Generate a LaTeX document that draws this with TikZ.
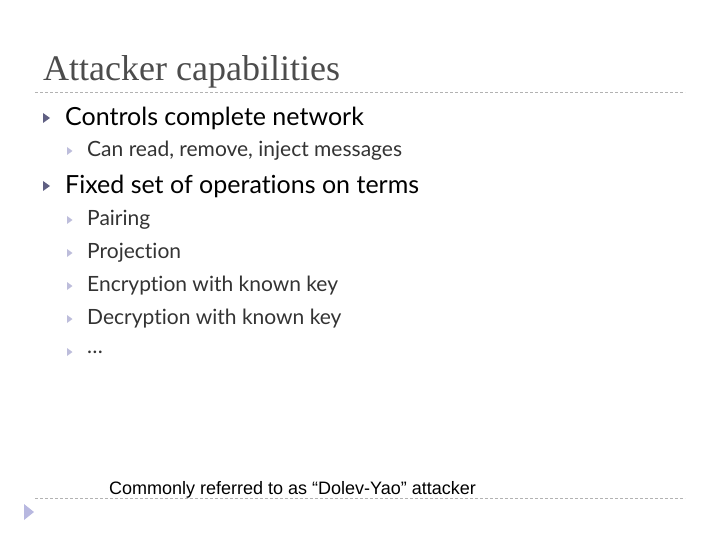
\documentclass[tikz,border=0pt]{standalone}
\usepackage{fontspec}
\setmainfont[Ligatures={NoCommon}]{Lato}
\newfontfamily\titlefont{Liberation Serif}
\newfontfamily\arialfont{Liberation Sans}
\begin{document}
\begin{tikzpicture}[x=1pt,y=-1pt,
  lone/.style={anchor=west,inner sep=0,font=\fontsize{25}{27}\selectfont,text=black},
  ltwo/.style={anchor=west,inner sep=0,font=\fontsize{21}{23}\selectfont,text=black!80}]
\useasboundingbox (0,0) rectangle (720,540);
\node[anchor=base west,inner sep=0,text=black!70,font=\titlefont\fontsize{36}{38}\selectfont] (title) at (43,81) {Attacker capabilities};
\draw[gray!60,dash pattern=on 3pt off 2pt] (35,92) -- (685,92);
\draw[gray!60,dash pattern=on 3pt off 2pt] (35,498) -- (685,498);
\newcommand\bigtri[2]{\fill[black!45!blue!25!gray] (#1-4,#2-5) -- (#1+3,#2) -- (#1-4,#2+5) -- cycle;}
\newcommand\smtri[2]{\fill[gray!70!blue!40] (#1-3,#2-4) -- (#1+2.5,#2) -- (#1-3,#2+4) -- cycle;}
\bigtri{47}{118}
\node[lone] (a) at (65,118) {Controls complete network};
\smtri{70}{151}
\node[ltwo] (a1) at (87,151) {Can read, remove, inject messages};
\bigtri{47}{186}
\node[lone] (b) at (65,186) {Fixed set of operations on terms};
\foreach \y/\t [count=\i] in {220/Pairing,253/Projection,286/Encryption with known key,319/Decryption with known key,352/\dots}{
  \smtri{70}{\y}
  \node[ltwo] (b\i) at (87,\y) {\t};
}
\node[anchor=base west,inner sep=0,font=\arialfont\fontsize{18}{20}\selectfont] (note) at (109,494) {Commonly referred to as “Dolev-Yao” attacker};
\fill[gray!60!blue!40] (24,504) -- (34,512) -- (24,520) -- cycle;
\end{tikzpicture}
\end{document}
